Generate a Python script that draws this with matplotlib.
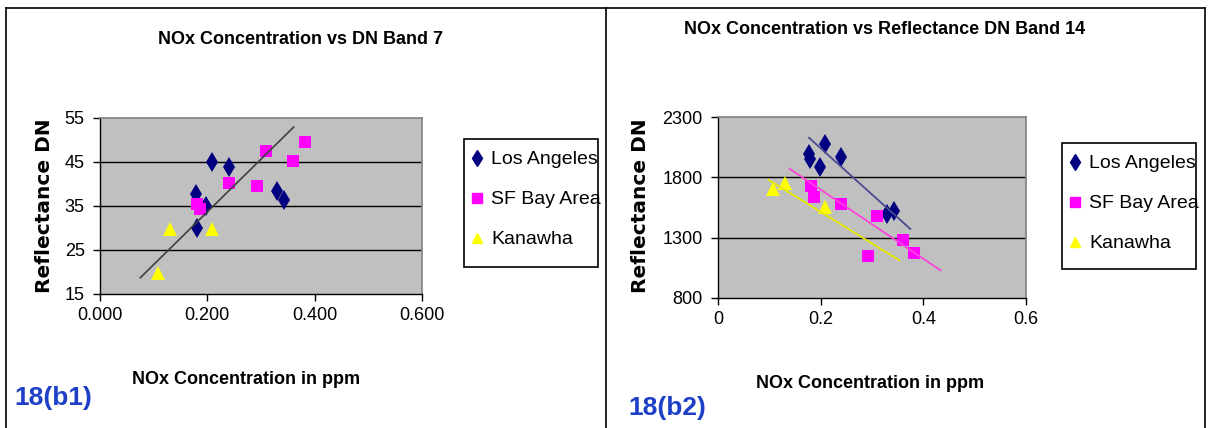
import matplotlib
matplotlib.use("Agg")
import matplotlib.pyplot as plt
from matplotlib.lines import Line2D
from matplotlib.patches import Rectangle
import numpy as np

# ---- data -------------------------------------------------------------
series_names = ["Los Angeles", "SF Bay Area", "Kanawha"]

la_nox = [0.178, 0.180, 0.198, 0.209, 0.240, 0.330, 0.343]
la_band7 = [37.8, 30.0, 35.0, 45.0, 43.9, 38.4, 36.3]
la_band14 = [1990, 1955, 1883, 2075, 1967, 1492, 1517]

sf_nox = [0.181, 0.187, 0.240, 0.293, 0.309, 0.360, 0.382]
sf_band7 = [35.5, 34.3, 40.2, 39.6, 47.6, 45.3, 49.6]
sf_band14 = [1725, 1633, 1575, 1150, 1483, 1283, 1175]

kw_nox = [0.108, 0.130, 0.209]
kw_band7 = [19.8, 29.7, 29.7]
kw_band14 = [1700, 1750, 1550]

# linear trend lines: (slope, intercept, x_from, x_to)
band7_trend = (119.8, 9.7, 0.074, 0.362)
la_trend14 = (-3830.0, 2807.0, 0.176, 0.376)
sf_trend14 = (-2862.0, 2270.0, 0.138, 0.435)
kw_trend14 = (-2616.0, 2037.0, 0.097, 0.355)

band7_yticks = [15, 25, 35, 45, 55]
band7_xticks = [0.0, 0.2, 0.4, 0.6]
band14_yticks = [800, 1300, 1800, 2300]
band14_xticks = [0.0, 0.2, 0.4, 0.6]

# ---- styling ----------------------------------------------------------
W, H = 1210, 428
NARROW = ["Liberation Sans Narrow", "Liberation Sans", "DejaVu Sans"]
plt.rcParams["font.family"] = NARROW

C_LA, C_SF, C_KW = "#000080", "#FF00FF", "#FFFF00"
PLOT_BG = "#C0C0C0"
styles = [
    dict(marker="d", color=C_LA, ms=10.5),
    dict(marker="s", color=C_SF, ms=9),
    dict(marker="^", color=C_KW, ms=9.5),
]

fig = plt.figure(figsize=(W / 100, H / 100), dpi=100)
fig.patch.set_facecolor("white")


def px_rect(x0, y0, x1, y1):
    return [x0 / W, 1 - y1 / H, (x1 - x0) / W, (y1 - y0) / H]


def style_axes(ax, yticks, xticks, xfmt):
    ax.set_facecolor(PLOT_BG)
    ax.set_ylim(yticks[0], yticks[-1])
    ax.set_xlim(xticks[0], xticks[-1])
    ax.set_yticks(yticks)
    ax.set_xticks(xticks)
    ax.set_xticklabels([xfmt(v) for v in xticks])
    for y in yticks[1:-1]:
        ax.axhline(y, color="black", lw=1.0, zorder=1)
    for s in ("top", "right"):
        ax.spines[s].set_color("#808080")
        ax.spines[s].set_linewidth(1.2)
    for s in ("left", "bottom"):
        ax.spines[s].set_color("black")
        ax.spines[s].set_linewidth(1.0)
    ax.tick_params(axis="both", direction="out", length=5, width=1,
                   labelsize=13, colors="black", pad=4)
    ax.tick_params(axis="y", pad=6)


def draw_trend(ax, trend, color, lw):
    slope, icpt, x0, x1 = trend
    xs = np.array([x0, x1])
    ax.plot(xs, slope * xs + icpt, color=color, lw=lw, zorder=4,
            solid_capstyle="butt")


def draw_legend(box):
    x0, y0, x1, y1 = box
    fig.patches.append(Rectangle((x0 / W, 1 - y1 / H), (x1 - x0) / W,
                                 (y1 - y0) / H, transform=fig.transFigure,
                                 fill=False, edgecolor="black", lw=1.2))
    handles = [Line2D([], [], linestyle="none", marker=st["marker"],
                      color=st["color"], markersize=st["ms"] * 0.8)
               for st in styles]
    fig.legend(handles, series_names, loc="upper left",
               bbox_to_anchor=((x0 + 1) / W, 1 - (y0 + 6) / H),
               frameon=False, fontsize=14, handlelength=0.6,
               handletextpad=0.45, labelspacing=1.15, borderaxespad=0,
               borderpad=0.3)


# ---- left panel: band 7 ----------------------------------------------
ax1 = fig.add_axes(px_rect(100, 118, 422, 294))
style_axes(ax1, band7_yticks, band7_xticks, lambda v: f"{v:.3f}")
for (xs, ys), st in zip([(la_nox, la_band7), (sf_nox, sf_band7),
                         (kw_nox, kw_band7)], styles):
    ax1.plot(xs, ys, linestyle="none", marker=st["marker"], color=st["color"],
             markersize=st["ms"], markeredgewidth=0, zorder=3)
draw_trend(ax1, band7_trend, "#404040", 1.2)

# ---- right panel: band 14 --------------------------------------------
ax2 = fig.add_axes(px_rect(718, 117, 1026, 298))
style_axes(ax2, band14_yticks, band14_xticks, lambda v: "0" if v == 0 else f"{v:g}")
for (xs, ys), st in zip([(la_nox, la_band14), (sf_nox, sf_band14),
                         (kw_nox, kw_band14)], styles):
    ax2.plot(xs, ys, linestyle="none", marker=st["marker"], color=st["color"],
             markersize=st["ms"], markeredgewidth=0, zorder=3)
draw_trend(ax2, la_trend14, "#4A4A90", 1.3)
draw_trend(ax2, sf_trend14, "#FF44DD", 1.3)
draw_trend(ax2, kw_trend14, "#E8E800", 1.3)

# ---- titles and axis labels ------------------------------------------
bold_narrow = dict(family=NARROW, fontweight="bold", color="black")
fig.text(300 / W, 1 - 40 / H, "NOx Concentration vs DN Band 7",
         ha="center", va="center", fontsize=13, **bold_narrow)
fig.text(885 / W, 1 - 30 / H, "NOx Concentration vs Reflectance DN Band 14",
         ha="center", va="center", fontsize=13, **bold_narrow)
fig.text(246 / W, 1 - 380 / H, "NOx Concentration in ppm",
         ha="center", va="center", fontsize=13, **bold_narrow)
fig.text(870 / W, 1 - 383 / H, "NOx Concentration in ppm",
         ha="center", va="center", fontsize=13, **bold_narrow)

for x in (45, 641):
    fig.text(x / W, 1 - 206 / H, "Reflectance DN", rotation=90,
             ha="center", va="center", fontsize=14.5,
             family=["DejaVu Sans"], fontweight="bold", color="black")

fig.text(14 / W, 1 - 398 / H, "18(b1)", ha="left", va="center",
         fontsize=19, fontweight="bold", color="#1E40C8",
         family=["Liberation Sans", "DejaVu Sans"])
fig.text(628 / W, 1 - 408 / H, "18(b2)", ha="left", va="center",
         fontsize=19, fontweight="bold", color="#1E40C8",
         family=["Liberation Sans", "DejaVu Sans"])

# ---- legends ----------------------------------------------------------
draw_legend((464, 139, 598, 267))
draw_legend((1062, 143, 1196, 269))

# ---- panel frames -----------------------------------------------------
frame_kw = dict(transform=fig.transFigure, color="black", lw=1.2)
top = 1 - 8 / H
fig.add_artist(Line2D([6 / W, 1205 / W], [top, top], **frame_kw))
for x in (6, 606, 1205):
    fig.add_artist(Line2D([x / W, x / W], [0, top], **frame_kw))

fig.savefig("out.png", dpi=100, facecolor="white")
